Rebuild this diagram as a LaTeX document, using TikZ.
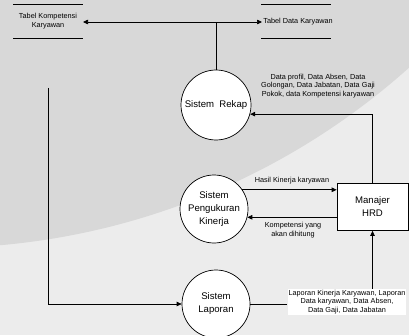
\documentclass[tikz,border=0pt]{standalone}
\usepackage{fontspec}
\setmainfont{Liberation Sans}
\usetikzlibrary{arrows.meta,calc}
\definecolor{bggray}{RGB}{216,216,216}
\definecolor{bglight}{RGB}{236,236,236}
\begin{document}
\begin{tikzpicture}[x=1pt,y=1pt,
  proc/.style={circle,draw,fill=white,minimum size=70pt,inner sep=0pt,align=center,
    font=\fontsize{9.6}{13}\selectfont},
  ent/.style={draw,fill=white,minimum width=71pt,minimum height=47pt,align=center,
    font=\fontsize{9.6}{13}\selectfont},
  lbl/.style={align=center,font=\fontsize{7.3}{8.5}\selectfont,inner sep=1pt},
  flow/.style={-{Triangle[length=5pt,width=4.5pt]}},
  line width=0.7pt]
% background: light page with a large grey disc in the upper left
\fill[bglight] (0,0) rectangle (409,335);
\useasboundingbox (0,0) rectangle (409,335);
\begin{scope}
  \clip (0,0) rectangle (409,335);
  \fill[bggray] (-63,795) circle[radius=708];
\end{scope}

% data stores
\draw (13,331) -- (83,331);
\draw (13,297) -- (83,297);
\node[lbl] (tkomp) at (48,314) {Tabel Kompetensi\\Karyawan};
\coordinate (tkompE) at (83,313);
\draw (261,331) -- (331,331);
\draw (261,297) -- (331,297);
\node[lbl,anchor=west] (tdata) at (262,313) {Tabel Data Karyawan};

% processes and entity
\node[proc] (rekap) at (216,230) {Sistem~~Rekap};
\node[proc,minimum size=68pt] (ukur) at (214,126) {Sistem\\Pengukuran\\Kinerja};
\node[proc,minimum size=68pt] (lap) at (216,31) {Sistem\\Laporan};
\node[ent] (hrd) at (372.5,128) {Manajer\\HRD};

% flows from Sistem Rekap to the stores
\coordinate (split) at (rekap.north |- tdata.west);
\draw (rekap.north) -- (split);
\draw[flow] (split) -- (tkompE);
\draw[flow] (split) -- (tdata.west);

% Manajer HRD to Sistem Rekap
\draw[flow] (hrd.north) |- (rekap.-15);
\node[lbl] (lrekap) at (318,249) {Data profil, Data Absen, Data\\Golongan, Data Jabatan, Data Gaji\\Pokok, data Kompetensi karyawan};

% Sistem Pengukuran Kinerja and Manajer HRD
\draw[flow] (ukur.34) -- (ukur.34 -| hrd.west);
\node[lbl] (lhasil) at (292,154) {Hasil Kinerja karyawan};
\draw[flow] (ukur.-14 -| hrd.west) -- (ukur.-14);
\node[lbl] (lkomp) at (293,105) {Kompetensi yang\\akan dihitung};

% Tabel Kompetensi Karyawan to Sistem Laporan
\coordinate (tk) at (48,247);
\draw[flow] (tk) |- (lap.west);

% Sistem Laporan to Manajer HRD
\node[lbl,fill=white] (llap) at (347,33) {Laporan Kinerja Karyawan, Laporan\\Data karyawan, Data Absen,\\Data Gaji, Data Jabatan};
\draw (lap.east) -- (lap.east -| llap.west);
\draw[flow] (llap.north -| hrd.south) -- (hrd.south);
\end{tikzpicture}
\end{document}
